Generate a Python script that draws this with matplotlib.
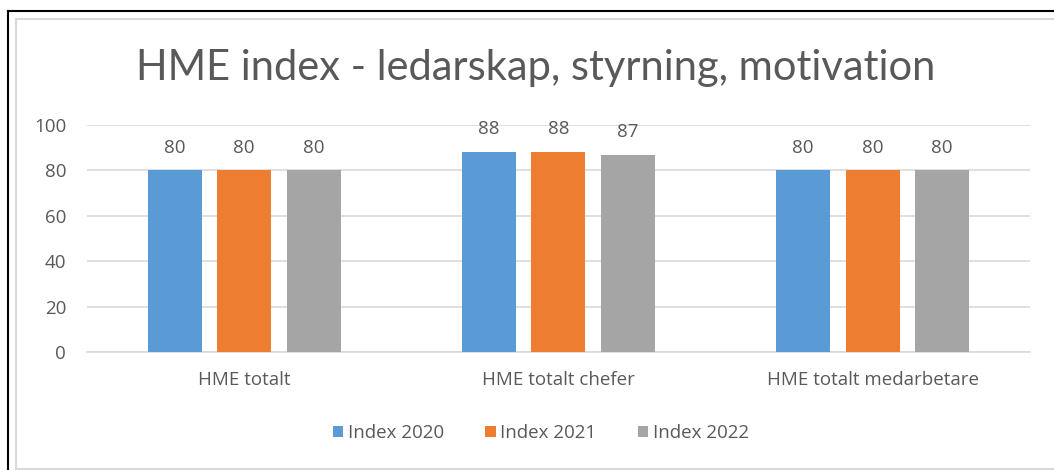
import matplotlib.pyplot as plt
from matplotlib.lines import Line2D
import numpy as np

plt.rcParams['font.family'] = ['Open Sans', 'DejaVu Sans']

categories = ['HME totalt', 'HME totalt chefer', 'HME totalt medarbetare']
series = ['Index 2020', 'Index 2021', 'Index 2022']
values = [
    [80, 88, 80],
    [80, 88, 80],
    [80, 87, 80],
]
colors = ['#5B9BD5', '#ED7D31', '#A5A5A5']
yticks = [0, 20, 40, 60, 80, 100]

text_col = '#595959'
grid_col = '#D9D9D9'
fs = 13.5

fig = plt.figure(figsize=(10.54, 4.70), dpi=100)
ax = fig.add_axes([0.0825, 0.251, 0.8945, 0.483])

x = np.arange(len(categories))
width = 0.172
step = 0.221
for i, (name, vals, c) in enumerate(zip(series, values, colors)):
    bars = ax.bar(x + (i - 1) * step, vals, width, color=c, label=name, zorder=3)
    ax.bar_label(bars, labels=[str(v) for v in vals], padding=10,
                 fontsize=fs, color=text_col)

ax.set_xlim(-0.5, 2.5)
ax.set_ylim(0, 100)
ax.set_yticks(yticks)
ax.set_xticks(x)
ax.set_xticklabels(categories)
ax.tick_params(axis='y', length=0, pad=15, labelsize=fs, labelcolor=text_col)
ax.tick_params(axis='x', length=0, pad=14, labelsize=fs, labelcolor=text_col)
ax.grid(axis='y', color=grid_col, linewidth=1.2, zorder=0)
for s in ['top', 'right', 'left']:
    ax.spines[s].set_visible(False)
ax.spines['bottom'].set_color(grid_col)
ax.spines['bottom'].set_linewidth(1.2)

fig.text(0.508, 0.855, 'HME index - ledarskap, styrning, motivation',
         ha='center', va='center', fontsize=30, color=text_col,
         family=['Lato', 'DejaVu Sans'])

fig.legend(loc='center', bbox_to_anchor=(0.513, 0.079), ncol=3, frameon=False,
           fontsize=fs, labelcolor=text_col, handlelength=0.55, handleheight=0.55,
           handletextpad=0.25, columnspacing=2.2)

# outer black frame and inner light frame
W, H = 1054, 470
fig.add_artist(Line2D([7.5 / W, 7.5 / W], [0, 1 - 11 / H], color='black', lw=1.5, transform=fig.transFigure))
fig.add_artist(Line2D([7.5 / W, 1], [1 - 11 / H, 1 - 11 / H], color='black', lw=1.5, transform=fig.transFigure))
fig.add_artist(Line2D([15.5 / W, 15.5 / W], [1 / H, 1 - 19 / H], color='#D9D9D9', lw=1.5, transform=fig.transFigure))
fig.add_artist(Line2D([15.5 / W, 1], [1 - 19 / H, 1 - 19 / H], color='#D9D9D9', lw=1.5, transform=fig.transFigure))
fig.add_artist(Line2D([15.5 / W, 1], [1.5 / H, 1.5 / H], color='#D9D9D9', lw=1.5, transform=fig.transFigure))

fig.savefig('out.png', dpi=100)
